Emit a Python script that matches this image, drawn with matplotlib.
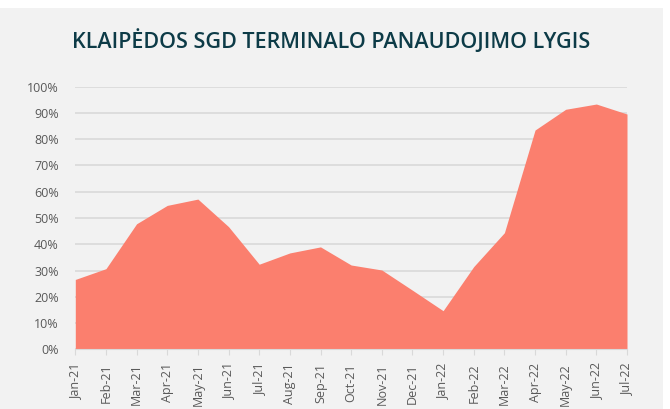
import matplotlib.pyplot as plt
from matplotlib.patches import Rectangle
from matplotlib.ticker import PercentFormatter

# data
months = ["Jan-21", "Feb-21", "Mar-21", "Apr-21", "May-21", "Jun-21", "Jul-21",
          "Aug-21", "Sep-21", "Oct-21", "Nov-21", "Dec-21", "Jan-22", "Feb-22",
          "Mar-22", "Apr-22", "May-22", "Jun-22", "Jul-22"]
usage = [26.6, 30.7, 47.8, 54.8, 57.2, 46.7, 32.4, 36.7, 39.0, 32.1, 30.2,
         22.5, 14.7, 31.5, 44.4, 83.5, 91.4, 93.4, 89.6]
yticks = list(range(0, 101, 10))

bg = "#f2f2f2"
fill_color = "#fb7f6e"
text_color = "#595959"

plt.rcParams['font.family'] = ['Open Sans', 'DejaVu Sans']

fig = plt.figure(figsize=(6.7, 4.09), dpi=100, facecolor="white")
# grey panel (white strip at top and right as in the screenshot)
fig.patches.append(Rectangle((0, 0), 663 / 670, 1 - 8 / 409, transform=fig.transFigure,
                             facecolor=bg, edgecolor="none", zorder=-10))

ax = fig.add_axes([75.3 / 670, 1 - 349.3 / 409, (627 - 75.3) / 670, (349.3 - 86.7) / 409])
ax.patch.set_alpha(0)

x = range(len(months))
ax.fill_between(x, usage, 0, color=fill_color, linewidth=0, zorder=2)

ax.set_xlim(0, len(months) - 1)
ax.set_ylim(0, 100)
ax.set_yticks(yticks)
ax.yaxis.set_major_formatter(PercentFormatter(decimals=0))
ax.set_xticks(list(x))
ax.set_xticklabels(months, rotation=90)

ax.grid(axis="y", color="#d9d9d9", linewidth=1.2, zorder=1)
ax.set_axisbelow(True)
for side in ["top", "right", "left"]:
    ax.spines[side].set_visible(False)
ax.spines["bottom"].set_color("#d9d9d9")
ax.tick_params(axis="y", length=0, pad=12, labelsize=9, labelcolor=text_color)
ax.tick_params(axis="x", length=4, color="#d9d9d9", pad=6, labelsize=9, labelcolor=text_color)

fig.text(331 / 670, 1 - 41.5 / 409, "KLAIPĖDOS SGD TERMINALO PANAUDOJIMO LYGIS",
         ha="center", va="center", fontsize=15.5, fontweight="semibold", color="#0d3b47")

fig.savefig("out.png", dpi=100, facecolor=fig.get_facecolor())
